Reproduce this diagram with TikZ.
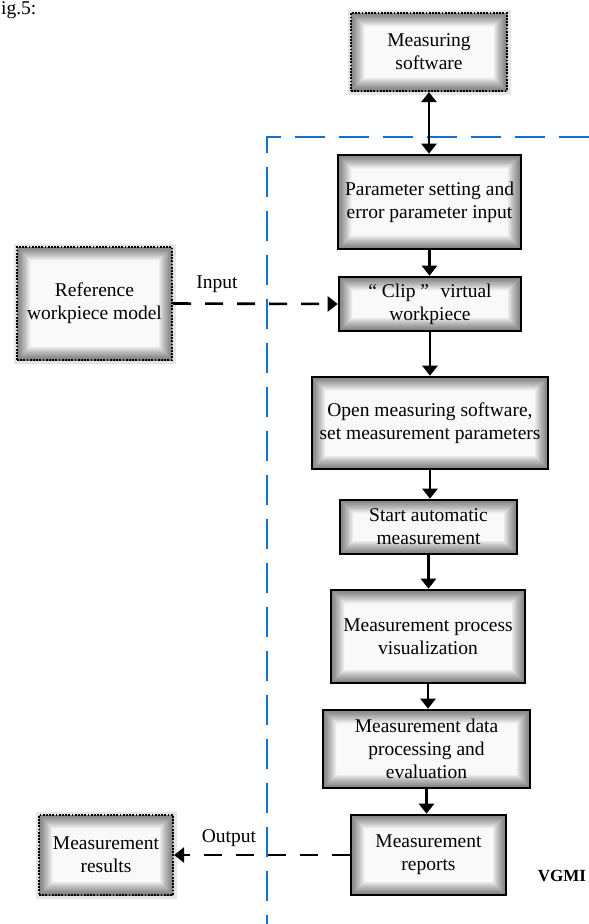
\documentclass[tikz,border=0pt]{standalone}
\usepackage{fontspec}
\setmainfont{Liberation Serif}
\usetikzlibrary{arrows.meta}
\definecolor{blueframe}{RGB}{20,115,200}
\begin{document}
\begin{tikzpicture}[x=1pt,y=-1pt,
  glow/.style={path picture={\foreach \k in {1,...,30}{\draw[line width=\k*0.9pt, black, opacity=0.021, solid] (path picture bounding box.south west) rectangle (path picture bounding box.north east);}}},
  box/.style={draw=black, line width=2.6pt, fill=gray!5, glow, align=center, inner sep=0pt, font=\fontsize{19.5}{23}\selectfont},
  dotbox/.style={box, line width=2.2pt, dash pattern=on 1.8pt off 1.4pt, preaction={draw=black!10, line width=7pt, solid}},
  tip/.tip={Triangle[length=10pt,width=15pt]},
  arr/.style={line width=2.6pt, -tip},
  darr/.style={arr, dash pattern=on 18pt off 14pt},
  frameline/.style={draw=blueframe, line width=2pt, dash pattern=on 30pt off 14pt},
  lbl/.style={font=\fontsize{19.5}{23}\selectfont, inner sep=0pt}
]
\useasboundingbox (0,0) rectangle (589,924);
\node[lbl, anchor=north west] (fig) at (1,1) {ig.5:};
% blue frame
\coordinate (fr1) at (589,137);
\coordinate (fr2) at (267,137);
\coordinate (fr3) at (267,924);
\draw[frameline] (fr1) -- (fr2) -- (fr3);
% boxes
\node[dotbox, minimum width=156pt, minimum height=78pt] (soft) at (429,52) {Measuring\\software};
\node[box, minimum width=183pt, minimum height=94pt] (param) at (429.5,202) {Parameter setting and\\error parameter input};
\node[dotbox, minimum width=155pt, minimum height=113pt] (ref) at (94.5,303.5) {Reference\\workpiece model};
\node[box, minimum width=182pt, minimum height=54pt] (clip) at (430,304) {“\hspace{0.25em}Clip\hspace{0.25em}”\hspace{0.6em}virtual\\workpiece};
\node[box, minimum width=236pt, minimum height=92pt] (open) at (430,423) {Open measuring software,\\set measurement parameters};
\node[box, minimum width=177pt, minimum height=54pt] (start) at (428.5,527) {Start automatic\\measurement};
\node[box, minimum width=194pt, minimum height=93pt] (viz) at (428,636.5) {Measurement process\\visualization};
\node[box, minimum width=207pt, minimum height=78pt] (data) at (426.5,749) {Measurement data\\processing and\\evaluation};
\node[box, minimum width=155pt, minimum height=80pt] (rep) at (428.5,855) {Measurement\\reports};
\node[dotbox, minimum width=134pt, minimum height=80pt] (res) at (106,855) {Measurement\\results};
% labels
\node[lbl, anchor=base] (inlbl) at (217,288) {Input};
\node[lbl, anchor=base] (outlbl) at (229,842) {Output};
\node[lbl, font=\fontsize{17}{20}\selectfont\bfseries] (vgmi) at (562,876) {VGMI};
% connectors
\draw[line width=2.6pt, tip-tip] (soft.south) -- (soft.south |- param.north);
\draw[arr] (param.south) -- (param.south |- clip.north);
\draw[arr] (clip.south) -- (clip.south |- open.north);
\draw[arr] (open.south) -- (open.south |- start.north);
\draw[arr] (start.south) -- (start.south |- viz.north);
\draw[arr] (viz.south) -- (viz.south |- data.north);
\draw[arr] (data.south) -- (data.south |- rep.north);
\draw[darr] (ref.east) -- (clip.west);
\draw[darr] (rep.west) -- (res.east);
\end{tikzpicture}
\end{document}
